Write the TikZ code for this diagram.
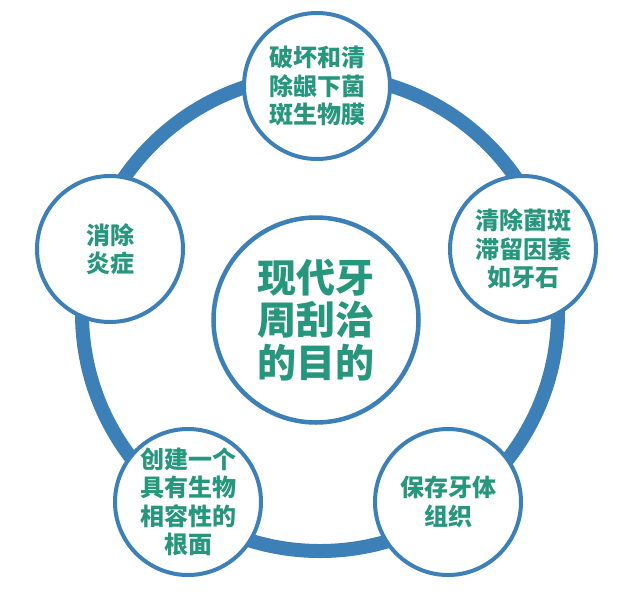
\documentclass[tikz,border=0pt]{standalone}
\usepackage{fontspec}
\newfontfamily\cjk{Noto Sans CJK SC}
\usepackage{tikz}
\definecolor{ringblue}{RGB}{61,128,183}
\definecolor{goalgreen}{RGB}{38,150,125}
\tikzset{
  ring/.style={draw=ringblue, line width=14pt},
  goal/.style={circle, draw=ringblue, line width=4pt, fill=white, minimum size=146pt,
    inner sep=0pt, align=center, text=goalgreen,
    font=\cjk\bfseries\fontsize{24}{28.5}\selectfont},
  hub/.style={goal, minimum size=205pt, line width=4.5pt,
    font=\cjk\bfseries\fontsize{39}{42.5}\selectfont}
}
\begin{document}
\begin{tikzpicture}[x=1pt, y=-1pt]
    \useasboundingbox (0,0) rectangle (640,606);
    \coordinate (ringc) at (320,313);
    \draw[ring] (ringc) circle (238);
    \node[hub]  (aim)  at (316,320) {现代牙\\周刮治\\的目的};
    \node[goal] (film) at (317,86)  {破坏和清\\除龈下菌\\斑生物膜};
    \node[goal] (calc) at (523,249) {清除菌斑\\滞留因素\\如牙石};
    \node[goal] (tiss) at (448,502) {保存牙体\\组织};
    \node[goal] (root) at (188,502) {创建一个\\具有生物\\相容性的\\根面};
    \node[goal] (infl) at (110,249) {消除\\炎症};
\end{tikzpicture}
\end{document}
